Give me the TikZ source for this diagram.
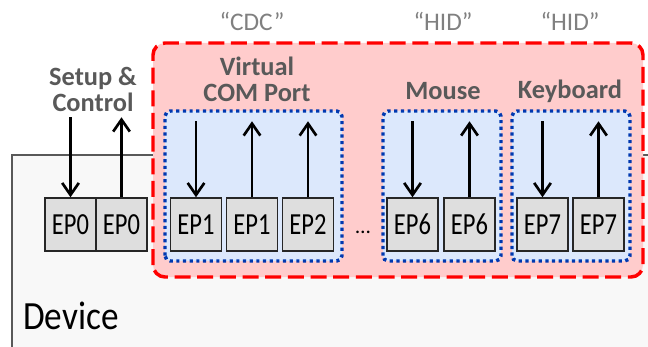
\documentclass[tikz,border=0pt]{standalone}
\usepackage{fontspec}
\setmainfont{Carlito}
\newfontfamily\epfont{Carlito}[FakeStretch=0.8]
\newfontfamily\devfont{Carlito}[FakeStretch=0.88]
\usetikzlibrary{arrows.meta}

\definecolor{devfill}{HTML}{F8F8F8}
\definecolor{devline}{HTML}{595959}
\definecolor{ifred}{HTML}{FF0000}
\definecolor{iffill}{HTML}{FFCCCC}
\definecolor{grpblue}{HTML}{0038B0}
\definecolor{grpfill}{HTML}{DCE8FC}
\definecolor{epfill}{HTML}{DEDEDE}
\definecolor{epline}{HTML}{262626}
\definecolor{lblgray}{HTML}{595959}
\definecolor{classgray}{HTML}{808080}

\begin{document}
\begin{tikzpicture}[
  x=0.75pt, y=0.75pt,
  device/.style  = {draw=devline, fill=devfill, line width=1pt},
  iface/.style   = {draw=ifred, fill=iffill, line width=2.6pt,
                    dash pattern=on 12pt off 5pt, rounded corners=9pt},
  group/.style   = {draw=grpblue, fill=grpfill, line width=2.6pt,
                    dash pattern=on 2.4pt off 2.6pt, rounded corners=4pt},
  ep/.style      = {draw=epline, fill=epfill, line width=1.1pt, inner sep=0pt,
                    minimum width=38.25pt, minimum height=39.75pt,
                    font=\epfont\fontsize{23}{23}\selectfont},
  pipe/.style    = {line width=2pt, -{Straight Barb[length=9pt,width=12.5pt]}},
  fname/.style   = {text=lblgray, align=center, inner sep=0pt,
                    font=\bfseries\fontsize{19.8}{19.5}\selectfont},
  cname/.style   = {text=classgray, anchor=base, inner sep=0pt,
                    font=\fontsize{19}{19}\selectfont},
]
  \useasboundingbox (0,0) rectangle (648,346);

  % device body runs off the page at the right and bottom
  \draw[device] (12,-10) rectangle (660,191);
  \node[anchor=base west, inner sep=0pt, font=\devfont\fontsize{30}{30}\selectfont]
    (devlbl) at (23,17) {Device};

  % composite interface and its functions
  \draw[iface] (153,69) rectangle (643,303);
  \draw[group] (165,85) rectangle (342,235);
  \draw[group] (383,85) rectangle (501,235);
  \draw[group] (512,85) rectangle (630,235);

  % endpoints
  \node[ep] (ep0o) at (70.5,121.5) {EP0};
  \node[ep] (ep0i) at (121.5,121.5) {EP0};
  \node[ep] (ep1o) at (196,121.5) {EP1};
  \node[ep] (ep1i) at (252,121.5) {EP1};
  \node[ep] (ep2i) at (308,121.5) {EP2};
  \node[ep] (ep6o) at (412.5,121.5) {EP6};
  \node[ep] (ep6i) at (469.5,121.5) {EP6};
  \node[ep] (ep7o) at (542.5,121.5) {EP7};
  \node[ep] (ep7i) at (598.5,121.5) {EP7};
  \node[anchor=base, inner sep=0pt, font=\fontsize{16}{16}\selectfont]
    (gap) at (363,113) {\ldots};

  % pipes: down = out of the host, up = into the host
  \draw[pipe] ([yshift=60pt]ep0o.north) -- (ep0o.north);
  \draw[pipe] (ep0i.north) -- ([yshift=60pt]ep0i.north);
  \draw[pipe] ([yshift=57pt]ep1o.north) -- (ep1o.north);
  \draw[pipe] (ep1i.north) -- ([yshift=57pt]ep1i.north);
  \draw[pipe] (ep2i.north) -- ([yshift=57pt]ep2i.north);
  \draw[pipe] ([yshift=57pt]ep6o.north) -- (ep6o.north);
  \draw[pipe] (ep6i.north) -- ([yshift=57pt]ep6i.north);
  \draw[pipe] ([yshift=57pt]ep7o.north) -- (ep7o.north);
  \draw[pipe] (ep7i.north) -- ([yshift=57pt]ep7i.north);

  % function names
  \node[fname] (setup) at (93,257) {Setup \&\\Control};
  \node[fname] (vcom) at (257,267) {Virtual\\COM Port};
  \node[fname, anchor=base] (mouse) at (443,246) {Mouse};
  \node[fname, anchor=base] (kbd) at (570,247) {Keyboard};

  % class names
  \node[cname] (cdc) at (252,315) {“CDC”};
  \node[cname] (hid6) at (443,315) {“HID”};
  \node[cname] (hid7) at (570,315) {“HID”};
\end{tikzpicture}
\end{document}
